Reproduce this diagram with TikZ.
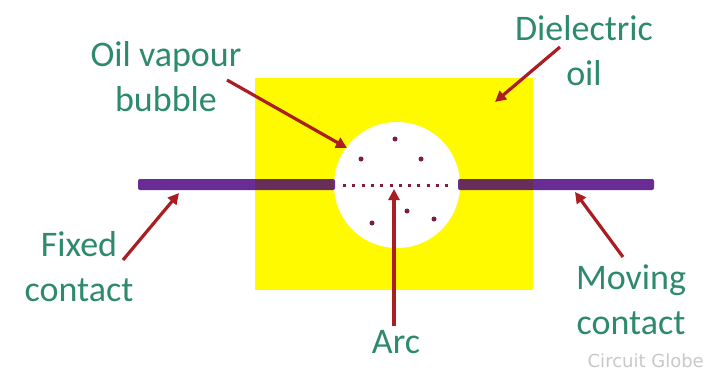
\documentclass[tikz,border=0pt]{standalone}
\usepackage{fontspec}
\setmainfont{Carlito}
\newfontfamily\wmfont{DejaVu Sans}
\usetikzlibrary{arrows.meta}
\definecolor{lbl}{RGB}{46,138,108}
\definecolor{arr}{RGB}{170,30,35}
\definecolor{rod}{RGB}{104,44,148}
\definecolor{rodin}{RGB}{104,46,90}
\definecolor{oil}{RGB}{255,250,0}
\definecolor{dotc}{RGB}{125,30,60}
\definecolor{wm}{RGB}{200,200,200}
\begin{document}
\begin{tikzpicture}[x=1pt,y=-1pt,
  lab/.style={font=\fontsize{36}{45}\selectfont, text=lbl, align=center, inner sep=0pt},
  pointer/.style={draw=arr, line width=3.2pt, -{Triangle[length=11pt,width=11pt]}},
  rodbar/.style={fill=rod, rounded corners=2pt},
  bubdot/.style={fill=dotc},
]
\useasboundingbox (0,0) rectangle (707,372);
\fill[white] (0,0) rectangle (707,372);
% dielectric oil tank
\fill[oil] (255,78) rectangle (533,290);
% vapour bubble
\node[circle, fill=white, minimum size=126pt, inner sep=0pt] (bubble) at (397,185) {};
% contacts
\fill[rodbar] (138,179) rectangle (335,190);
\fill[rodin] (255,179) rectangle (333,190);
\fill[rodbar] (458,179) rectangle (654,190);
\fill[rodin] (460,179) rectangle (533,190);
% arc
\draw[dotc, line width=3pt, dash pattern=on 3pt off 6.3pt] (343,185) -- (452,185);
% gas particles
\fill[bubdot] (395,139) circle (2.5);
\fill[bubdot] (361,159) circle (2.5);
\fill[bubdot] (421,159) circle (2.5);
\fill[bubdot] (407,211) circle (2.5);
\fill[bubdot] (372,223) circle (2.5);
\fill[bubdot] (434,219) circle (2.5);
% labels
\node[lab] (ovl) at (166,77) {Oil vapour\\bubble};
\node[lab] (del) at (584,51) {Dielectric\\oil};
\node[lab] (fix) at (79,267) {Fixed\\contact};
\node[lab] (mov) at (631,300) {Moving\\contact};
\node[lab] (arc) at (396,342) {Arc};
\node[font=\wmfont\fontsize{18}{18}\selectfont, text=wm, inner sep=0pt, anchor=east] (wmk) at (704,361) {Circuit Globe};
% pointer coordinates
\coordinate (ovs) at (227,80);  \coordinate (ovt) at (347,148);
\coordinate (des) at (560,47);  \coordinate (det) at (495,102);
\coordinate (fxs) at (123,260); \coordinate (fxt) at (179,193);
\coordinate (mvs) at (623,257); \coordinate (mvt) at (575,192);
\coordinate (ars) at (394,326); \coordinate (art) at (394,189);
\draw[pointer] (ovs) -- (ovt);
\draw[pointer] (des) -- (det);
\draw[pointer] (fxs) -- (fxt);
\draw[pointer] (mvs) -- (mvt);
\draw[pointer] (ars) -- (art);
\end{tikzpicture}
\end{document}
